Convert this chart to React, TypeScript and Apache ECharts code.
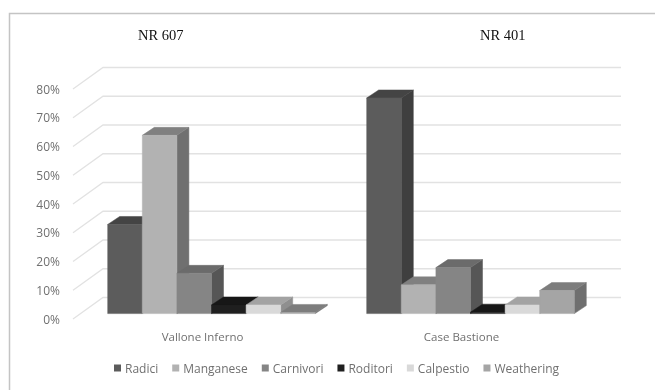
import React, { useEffect, useRef } from "react";
import * as echarts from "echarts";

const categories = ["Vallone Inferno", "Case Bastione"];
const seriesNames = ["Radici", "Manganese", "Carnivori", "Roditori", "Calpestio", "Weathering"];
const radici = [31, 75];
const manganese = [62, 10];
const carnivori = [14, 16];
const roditori = [3, 0.5];
const calpestio = [3, 3];
const weathering = [0.4, 8];
const gridTicks = [0, 10, 20, 30, 40, 50, 60, 70, 80];
const titles = ["NR 607", "NR 401"];
const frontColors = ["#5c5c5c", "#b2b2b2", "#858585", "#1f1f1f", "#d9d9d9", "#a5a5a5"];
const topColors = ["#444444", "#808080", "#6b6b6b", "#171717", "#a3a3a3", "#7d7d7d"];
const sideColors = ["#3f3f3f", "#707070", "#565656", "#121212", "#8f8f8f", "#6f6f6f"];

const FONT = "'Open Sans', sans-serif";
const TEXT = "#707070";
const FLOOR_DX = 30;
const FLOOR_DY = -21.5;
const BAR_INSET_X = 9;
const BAR_INSET_Y = -5.4;
const DEPTH_X = 12;
const DEPTH_Y = -8;
const BAR_SHARE = 34.6 / 259;

export default function App() {
  const ref = useRef<HTMLDivElement>(null);
  useEffect(() => {
    const chart = echarts.init(ref.current!, undefined, { renderer: "svg" });
    const values = [radici, manganese, carnivori, roditori, calpestio, weathering];
    const barSeries = seriesNames.map((name, s) => ({
      type: "custom",
      name,
      z: 5,
      clip: false,
      silent: true,
      itemStyle: { color: frontColors[s] },
      encode: { x: 0, y: 1 },
      data: values[s].map((v, i) => [i, v]),
      renderItem: (_p: any, api: any) => {
        const cat = api.value(0);
        const [cx, y0] = api.coord([cat, 0]);
        const [, y1] = api.coord([cat, api.value(1)]);
        const band = api.size([1, 0])[0];
        const w = band * BAR_SHARE;
        const x = cx + BAR_INSET_X - 3 * w + s * w;
        const b = y0 + BAR_INSET_Y;
        const t = y1 + BAR_INSET_Y;
        const poly = (points: number[][], fill: string) => ({
          type: "polygon",
          shape: { points },
          style: { fill, stroke: fill, lineWidth: 0.5 },
        });
        return {
          type: "group",
          children: [
            poly([[x + w, b], [x + w + DEPTH_X, b + DEPTH_Y], [x + w + DEPTH_X, t + DEPTH_Y], [x + w, t]], sideColors[s]),
            poly([[x, t], [x + DEPTH_X, t + DEPTH_Y], [x + w + DEPTH_X, t + DEPTH_Y], [x + w, t]], topColors[s]),
            poly([[x, b], [x + w, b], [x + w, t], [x, t]], frontColors[s]),
          ],
        };
      },
    }));
    const gridSeries = {
      type: "custom",
      name: "grid",
      z: 1,
      clip: false,
      silent: true,
      encode: { y: 0 },
      data: gridTicks.map((v) => [v]),
      renderItem: (p: any, api: any) => {
        const y = api.coord([0, api.value(0)])[1];
        const x0 = p.coordSys.x;
        const w = p.coordSys.width;
        return {
          type: "polyline",
          shape: {
            points: [[x0, y], [x0 + FLOOR_DX, y + FLOOR_DY], [x0 + FLOOR_DX + w, y + FLOOR_DY]],
          },
          style: { fill: "none", stroke: "#e2e2e2", lineWidth: 1.3 },
        };
      },
    };
    chart.setOption({
      animation: false,
      backgroundColor: "#ffffff",
      title: titles.map((text, i) => ({
        text,
        left: [133, 475][i],
        top: 22,
        textStyle: { fontFamily: "'Liberation Serif', serif", fontSize: 14.5, fontWeight: "normal", color: "#111" },
      })),
      grid: { left: 73, width: 518, top: 89, height: 230 },
      xAxis: {
        type: "category",
        data: categories,
        axisLine: { show: false },
        axisTick: { show: false },
        splitLine: { show: false },
        axisLabel: { color: TEXT, fontFamily: FONT, fontSize: 11.5, margin: 11 },
      },
      yAxis: {
        type: "value",
        min: 0,
        max: 80,
        interval: 10,
        axisLine: { show: false },
        axisTick: { show: false },
        splitLine: { show: false },
        axisLabel: { color: TEXT, fontFamily: FONT, fontSize: 12, margin: 13, formatter: "{value}%" },
      },
      legend: {
        data: seriesNames,
        left: 114,
        top: 362,
        icon: "rect",
        itemWidth: 7,
        itemHeight: 7,
        itemGap: 14,
        padding: 0,
        textStyle: { color: TEXT, fontFamily: FONT, fontSize: 12, padding: [1, 0, 0, -1] },
      },
      graphic: [
        {
          type: "polyline",
          silent: true,
          shape: { points: [[9.5, 390], [9.5, 13.5], [655, 13.5]] },
          style: { fill: "none", stroke: "#c4c4c4", lineWidth: 1.5 },
        },
      ],
      series: [gridSeries, ...barSeries],
    });
    return () => chart.dispose();
  }, []);
  return <div ref={ref} style={{ position: "fixed", left: 0, top: 0, width: 655, height: 390, filter: "blur(0.35px)" }} />;
}
